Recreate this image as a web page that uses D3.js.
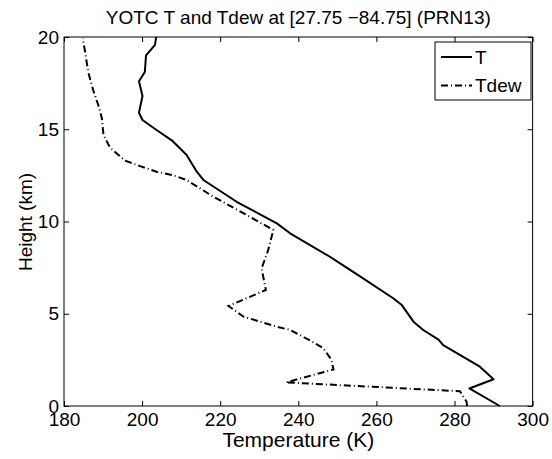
<!DOCTYPE html>
<html>
<head>
<meta charset="utf-8">
<script src="https://cdn.jsdelivr.net/npm/d3@7"></script>
<style>
  body { margin: 0; background: #fff; }
  svg { font-family: "Liberation Sans", Arial, Helvetica, sans-serif; }
</style>
</head>
<body>
<div id="visualization"></div>
<script>
// Profile data (height in km, temperature in K)
const tHeight = [0, 0.95, 1.45, 2.13, 3.3, 3.6, 4.12, 4.57, 5.47, 5.84, 6.92, 7.73, 8.09, 9.36, 9.9,
                 11.07, 12.25, 12.7, 13.6, 14.4, 14.96, 15.5, 15.9, 16.8, 17.6, 18.1, 19.0, 19.57, 20.0];
const tValue = [291.6, 283.8, 290.0, 286.5, 277.1, 275.9, 272.0, 269.5, 266.5, 264.3, 256.6, 250.7, 248.1, 237.9, 234.5,
                224.2, 215.7, 214.0, 211.4, 207.6, 203.7, 200.1, 199.2, 200.1, 199.2, 200.7, 201.0, 203.3, 203.6];

const tdHeight = [0, 0.23, 0.8, 1.28, 1.98, 2.5, 3.13, 3.6, 4.12, 4.3, 4.84, 5.42, 6.29, 7.46, 8.46, 9.54,
                  10.35, 11.35, 12.25, 12.5, 12.7, 13.0, 13.3, 14.0, 14.7, 15.6, 16.3, 17.1, 18.1, 19.2, 19.93];
const tdValue = [283.2, 283.1, 281.4, 236.8, 249.0, 248.5, 246.4, 242.6, 237.9, 234.5, 226.0, 222.1, 231.7, 230.6, 232.3, 233.6,
                 226.8, 218.2, 211.4, 208.0, 203.7, 199.5, 195.6, 191.8, 190.1, 189.7, 188.8, 187.5, 186.2, 185.4, 184.8];

const xTicks = [180, 200, 220, 240, 260, 280, 300];
const yTicks = [0, 5, 10, 15, 20];
const seriesNames = ["T", "Tdew"];

const margin = { top: 37, right: 19.4, bottom: 53, left: 64 };
const width = 552 - margin.left - margin.right;
const height = 459 - margin.top - margin.bottom;

const svg = d3.select("#visualization").append("svg")
    .attr("width", 552)
    .attr("height", 459)
  .append("g")
    .attr("transform", "translate(" + margin.left + "," + margin.top + ")");

const x = d3.scaleLinear().domain([180, 300]).range([0, width]);
const y = d3.scaleLinear().domain([0, 20]).range([height, 0]);

// Axes with inward ticks on all four sides (matlab style)
function styleAxis(g) {
    g.select(".domain").remove();
    g.selectAll(".tick line").attr("stroke", "black");
    g.selectAll(".tick text").attr("fill", "black").attr("font-size", "19px");
}

svg.append("g")
    .attr("transform", "translate(0," + height + ")")
    .call(d3.axisBottom(x).tickValues(xTicks).tickSizeInner(-5).tickSizeOuter(0).tickPadding(6.5))
    .call(styleAxis);

svg.append("g")
    .call(d3.axisTop(x).tickValues(xTicks).tickSizeInner(-5).tickSizeOuter(0).tickFormat(""))
    .call(styleAxis);

svg.append("g")
    .call(d3.axisLeft(y).tickValues(yTicks).tickSizeInner(-5).tickSizeOuter(0).tickPadding(5))
    .call(styleAxis);

svg.append("g")
    .attr("transform", "translate(" + width + ",0)")
    .call(d3.axisRight(y).tickValues(yTicks).tickSizeInner(-5).tickSizeOuter(0).tickFormat(""))
    .call(styleAxis);

svg.append("rect")
    .attr("width", width)
    .attr("height", height)
    .attr("fill", "none")
    .attr("stroke", "black")
    .attr("stroke-width", 1);

// Title and axis labels
svg.append("text")
    .attr("x", width / 2)
    .attr("y", -13)
    .attr("text-anchor", "middle")
    .attr("font-size", "19px")
    .text("YOTC T and Tdew at [27.75 \u221284.75] (PRN13)");

svg.append("text")
    .attr("x", width / 2)
    .attr("y", height + 41)
    .attr("text-anchor", "middle")
    .attr("font-size", "21px")
    .text("Temperature (K)");

svg.append("text")
    .attr("transform", "rotate(-90)")
    .attr("x", -(222 - margin.top))
    .attr("y", -32)
    .attr("text-anchor", "middle")
    .attr("font-size", "19px")
    .text("Height (km)");

// Lines
const tData = tHeight.map((h, i) => ({ h: h, v: tValue[i] }));
const tdData = tdHeight.map((h, i) => ({ h: h, v: tdValue[i] }));

const line = d3.line()
    .x(d => x(d.v))
    .y(d => y(d.h));

svg.append("path")
    .datum(tData)
    .attr("fill", "none")
    .attr("stroke", "black")
    .attr("stroke-width", 2)
    .attr("stroke-linejoin", "round")
    .attr("d", line);

svg.append("path")
    .datum(tdData)
    .attr("fill", "none")
    .attr("stroke", "black")
    .attr("stroke-width", 2)
    .attr("stroke-dasharray", "7,3,1,3")
    .attr("d", line);

// Legend
const legend = svg.append("g")
    .attr("transform", "translate(" + (435 - margin.left) + "," + (42 - margin.top) + ")");

legend.append("rect")
    .attr("width", 96)
    .attr("height", 58)
    .attr("fill", "white")
    .attr("stroke", "black");

seriesNames.forEach((name, i) => {
    const ly = 15 + i * 28.5;
    legend.append("line")
        .attr("x1", 6)
        .attr("x2", 37)
        .attr("y1", ly)
        .attr("y2", ly)
        .attr("stroke", "black")
        .attr("stroke-width", 2)
        .attr("stroke-dasharray", i === 1 ? "7,3,1,3" : null);
    legend.append("text")
        .attr("x", 40)
        .attr("y", ly)
        .attr("dy", "0.35em")
        .attr("font-size", "19px")
        .text(name);
});
</script>
</body>
</html>
